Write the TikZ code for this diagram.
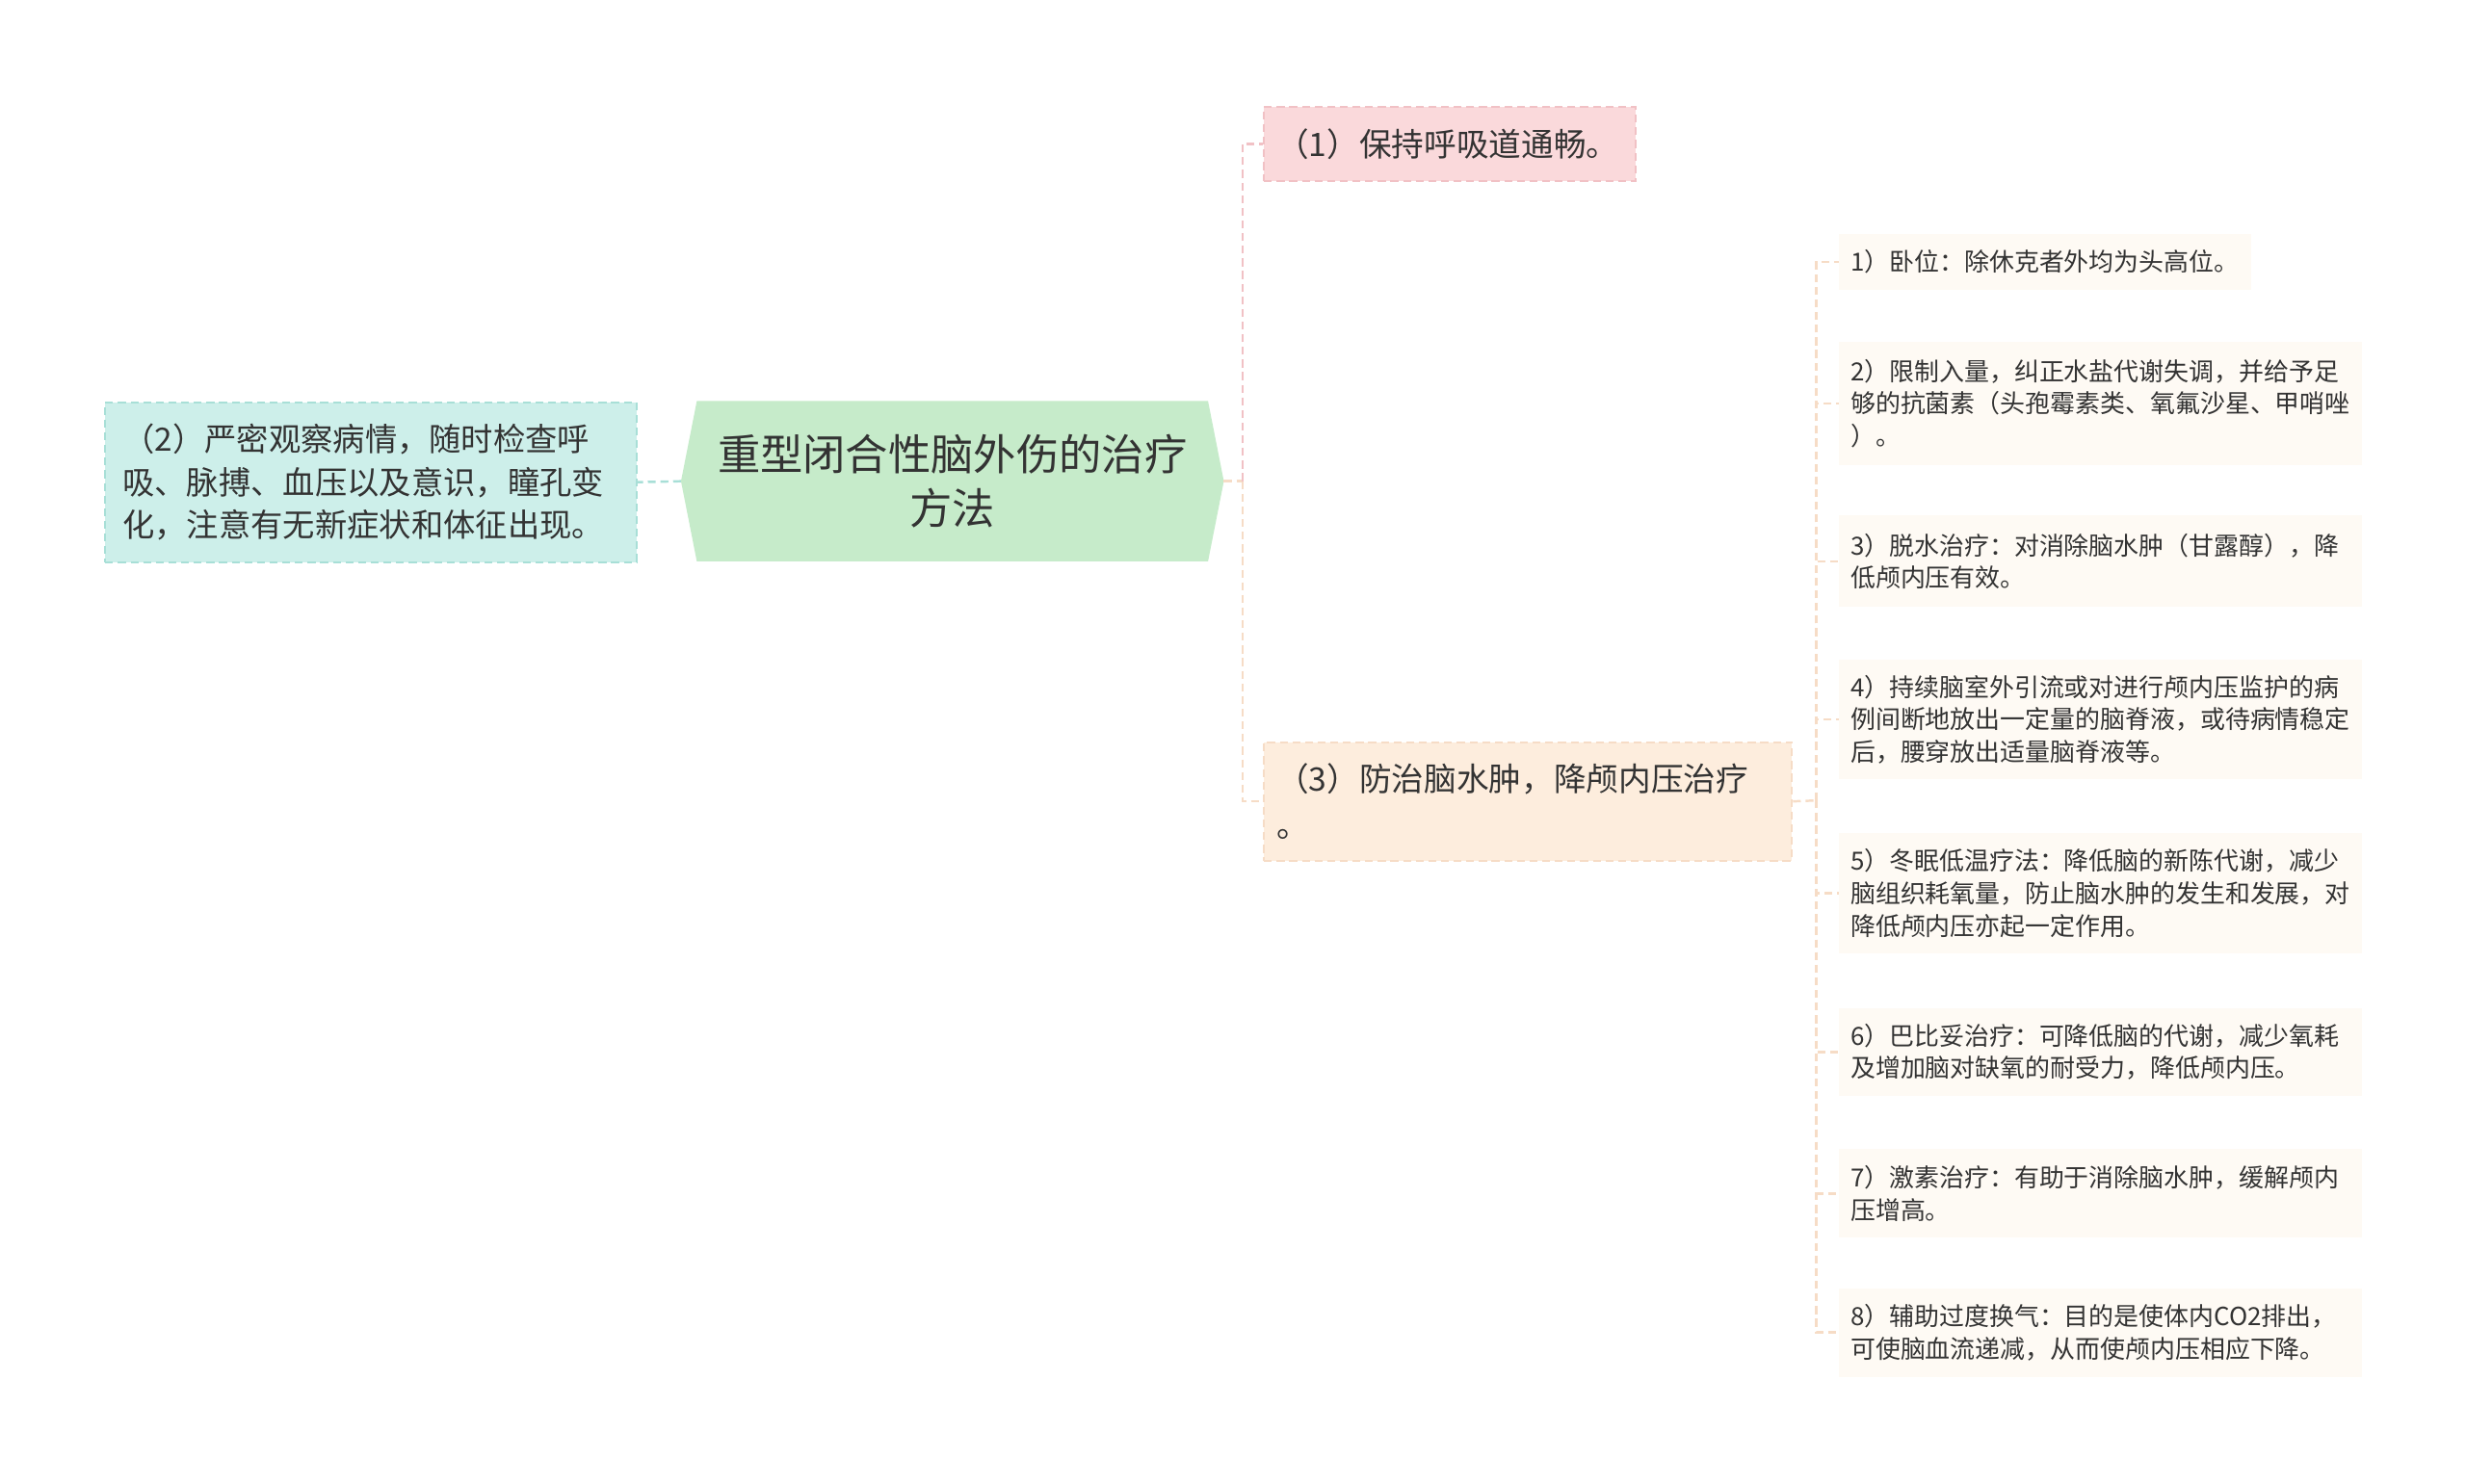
\documentclass[tikz,border=0pt]{standalone}
\usepackage{fontspec}
\setmainfont{Noto Sans CJK SC}
\usetikzlibrary{backgrounds}

\definecolor{txtgray}{HTML}{333333}
\definecolor{rootgreen}{HTML}{C6EBCA}
\definecolor{obsfill}{HTML}{CDEFEA}
\definecolor{obsline}{HTML}{A8DFD7}
\definecolor{airfill}{HTML}{FAD9DB}
\definecolor{airline}{HTML}{F1C1C5}
\definecolor{edemafill}{HTML}{FDEDDD}
\definecolor{edemaline}{HTML}{F6DCC6}
\definecolor{leaffill}{HTML}{FEFAF4}

\begin{document}
\begin{tikzpicture}[x=1pt, y=-1pt,
    every node/.style={text=txtgray, anchor=north west},
    link/.style={line width=1.5pt, dash pattern=on 5pt off 3pt},
    branch/.style={draw, line width=1.2pt, dash pattern=on 5pt off 3pt, align=left, inner ysep=0pt},
    leaf/.style={fill=leaffill, inner xsep=7.5pt, inner ysep=0pt, align=left,
        text width=316pt, font=\fontsize{15.8}{20.5}\selectfont}]
            \useasboundingbox (0,0) rectangle (1560,939);

            % Draw the root topic
            \node[minimum width=323pt, minimum height=101pt, inner sep=0pt,
                align=center, font=\fontsize{27}{34}\selectfont, anchor=center]
                (root) at (602.5,304.5) {重型闭合性脑外伤的治疗\\方法};
            \begin{scope}[on background layer]
                \fill[rootgreen] (root.north west) -- (root.north east) -- ([xshift=10pt]root.east)
                    -- (root.south east) -- (root.south west) -- ([xshift=-10pt]root.west) -- cycle;
            \end{scope}

            % Draw the three main branches
            \node[branch, draw=obsline, fill=obsfill, inner xsep=11pt, text width=314pt, minimum height=101pt,
                font=\fontsize{20.3}{27}\selectfont] (observe) at (66,254)
                {（2）严密观察病情，随时检查呼\\吸、脉搏、血压以及意识，瞳孔变\\化，注意有无新症状和体征出现。};
            \node[branch, draw=airline, fill=airfill, inner xsep=8pt, text width=219pt, minimum height=47pt,
                font=\fontsize{20.5}{27}\selectfont] (airway) at (799,67) {（1）保持呼吸道通畅。};
            \node[branch, draw=edemaline, fill=edemafill, inner xsep=8pt, text width=318pt, minimum height=75pt,
                font=\fontsize{20.5}{29}\selectfont] (edema) at (799,469) {（3）防治脑水肿，降颅内压治疗\\。};

            % Draw the leaves of branch (3)
            \node[leaf, text width=246pt, minimum height=35pt] (posture) at (1163,148) {1）卧位：除休克者外均为头高位。};
            \node[leaf, minimum height=78pt] (fluid) at (1163,216) {2）限制入量，纠正水盐代谢失调，并给予足\\够的抗菌素（头孢霉素类、氧氟沙星、甲哨唑\\）。};
            \node[leaf, minimum height=58pt] (dehydrate) at (1163,326) {3）脱水治疗：对消除脑水肿（甘露醇），降\\低颅内压有效。};
            \node[leaf, minimum height=76pt] (drainage) at (1163,417) {4）持续脑室外引流或对进行颅内压监护的病\\例间断地放出一定量的脑脊液，或待病情稳定\\后，腰穿放出适量脑脊液等。};
            \node[leaf, minimum height=76pt] (hibernate) at (1163,527) {5）冬眠低温疗法：降低脑的新陈代谢，减少\\脑组织耗氧量，防止脑水肿的发生和发展，对\\降低颅内压亦起一定作用。};
            \node[leaf, minimum height=55pt] (barbital) at (1163,638) {6）巴比妥治疗：可降低脑的代谢，减少氧耗\\及增加脑对缺氧的耐受力，降低颅内压。};
            \node[leaf, minimum height=56pt] (hormone) at (1163,727) {7）激素治疗：有助于消除脑水肿，缓解颅内\\压增高。};
            \node[leaf, minimum height=56pt] (ventilate) at (1163,815) {8）辅助过度换气：目的是使体内CO2排出，\\可使脑血流递减，从而使颅内压相应下降。};

            % Draw links from the root
            \coordinate (rootjoint) at (786,304.5);
            \draw[link, obsline] ([xshift=-10pt]root.west) -- (observe.east);
            \draw[link, edemaline] ([xshift=10pt]root.east) -- (rootjoint);
            \draw[link, airline] (rootjoint) |- (airway.west);
            \draw[link, edemaline] (rootjoint) |- (edema.west);

            % Draw links to the leaves
            \coordinate (edemajoint) at (1149,506.5);
            \draw[link, edemaline] (edema.east) -- (edemajoint);
            \foreach \leafname in {posture,fluid,dehydrate,drainage,hibernate,barbital,hormone,ventilate}
                \draw[link, edemaline] (edemajoint) |- (\leafname.west);
        \end{tikzpicture}
\end{document}
